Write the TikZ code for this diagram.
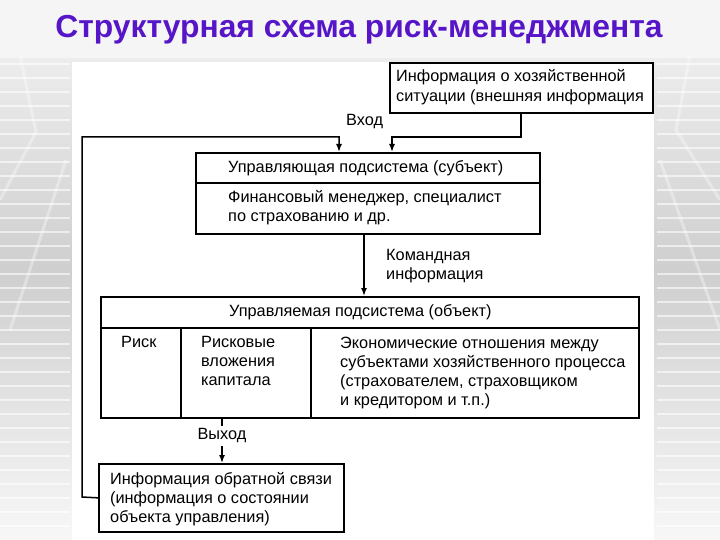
\documentclass[tikz,border=0pt]{standalone}
\usepackage{fontspec}
\setmainfont{Liberation Sans}
\usetikzlibrary{arrows.meta}
\definecolor{titlecol}{RGB}{86,22,200}
\begin{document}
\begin{tikzpicture}[x=1pt,y=-1pt,
  box/.style={draw=black, line width=1.7pt, fill=white, inner sep=0pt, anchor=north west},
  txt/.style={anchor=north west, inner sep=0pt, align=left, font=\fontsize{16.3}{19}\selectfont},
  link/.style={line width=1.5pt},
  arr/.style={link, -{Latex[length=8pt,width=6pt]}},
  bgline/.style={white, opacity=0.6, line width=1.2pt}]
\useasboundingbox (0,0) rectangle (720,540);
% slide background
\fill[top color=gray!8, bottom color=gray!38] (0,0) rectangle (720,270);
\fill[top color=gray!38, bottom color=gray!6] (0,270) rectangle (720,540);
\fill[gray!8] (0,0) rectangle (720,58);
\foreach \yy in {64,78,...,530} {
  \draw[bgline] (0,\yy) -- (70,\yy);
  \draw[bgline] (657,\yy) -- (720,\yy);
}
\draw[white, opacity=0.35, line width=3pt] (20,55) -- (36,132) -- (0,200);
\draw[white, opacity=0.35, line width=3pt] (66,160) -- (10,330);
\draw[white, opacity=0.35, line width=3pt] (690,55) -- (676,130) -- (720,200);
\draw[white, opacity=0.35, line width=3pt] (660,160) -- (720,330);
% title
\node[font=\fontsize{31.8}{36}\selectfont\bfseries, text=titlecol] (title) at (359,30) {Структурная схема риск-менеджмента};
% scanned page
\fill[white] (72,62) rectangle (654,540);
% boxes
\node[box, minimum width=263pt, minimum height=50pt] (info) at (389,62) {};
\node[box, minimum width=344pt, minimum height=81pt] (ctl) at (195,152) {};
\node[box, minimum width=538pt, minimum height=121pt] (obj) at (100,296) {};
\node[box, minimum width=245pt, minimum height=68pt] (fb) at (98,463) {};
% inner dividers
\coordinate (d1) at (0,183);
\coordinate (d2) at (0,328);
\coordinate (c1) at (181,0);
\coordinate (c2) at (311,0);
\draw[link] (ctl.west |- d1) -- (ctl.east |- d1);
\draw[link] (obj.west |- d2) -- (obj.east |- d2);
\draw[link] (c1 |- d2) -- (c1 |- obj.south);
\draw[link] (c2 |- d2) -- (c2 |- obj.south);
% texts
\node[txt] (tinfo) at (396,69.5) {Информация о хозяйственной\\[1pt]ситуации (внешняя информация};
\node[txt] (tin) at (346,114.5) {Вход};
\node[txt] (tctl) at (228,160.5) {Управляющая подсистема (субъект)};
\node[txt] (tfin) at (228,190.5) {Финансовый менеджер, специалист\\по страхованию и др.};
\node[txt] (tcmd) at (386,249.5) {Командная\\информация};
\node[txt] (tobj) at (229,304.5) {Управляемая подсистема (объект)};
\node[txt] (trisk) at (121,336.5) {Риск};
\node[txt] (tinv) at (201,336.5) {Рисковые\\вложения\\капитала};
\node[txt] (teco) at (340,336.5) {Экономические отношения между\\субъектами хозяйственного процесса\\(страхователем, страховщиком\\и кредитором и т.п.)};
\node[txt, anchor=center, inner sep=3pt] (tout) at (222,436) {Выход};
\node[txt] (tfb) at (110,472.5) {Информация обратной связи\\(информация о состоянии\\объекта управления)};
% connectors
\coordinate (j1) at (521,137);
\coordinate (a2) at (392,137);
\draw[arr] (info.south -| j1) |- (a2) -- (ctl.north -| a2);
\coordinate (f1) at (82,497);
\coordinate (f2) at (82,137);
\coordinate (f3) at (339,137);
\draw[arr] (fb.west) -- (f1) -- (f2) -- (f3) -- (ctl.north -| f3);
\coordinate (cx) at (364,0);
\draw[arr] (ctl.south -| cx) -- (obj.north -| cx);
\draw[link] (obj.south -| tout) -- (tout.north);
\draw[arr] (tout.south) -- (fb.north -| tout);
\end{tikzpicture}
\end{document}
